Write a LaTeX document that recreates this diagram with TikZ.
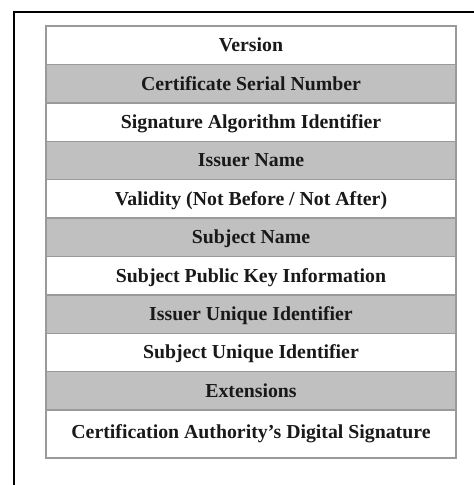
\documentclass[tikz,border=0pt]{standalone}
\usepackage{fontspec}
\setmainfont{Liberation Serif}
\begin{document}
\begin{tikzpicture}[x=1pt,y=-1pt,
  rowbox/.style={draw=tablegray, line width=1.4pt, minimum width=410pt, minimum height=38.4pt, inner sep=0pt, outer sep=0pt, anchor=north west, text height=15.5pt, text depth=2.5pt, font=\fontsize{19.8}{24}\selectfont\bfseries, text=black!90},
  shaded/.style={fill=rowgray},
  plain/.style={fill=white}]
\definecolor{tablegray}{HTML}{9A9A9A}
\definecolor{rowgray}{HTML}{C0C0C0}
\useasboundingbox (0,0) rectangle (474,485);
\fill[white] (0,0) rectangle (474,485);
\coordinate (fbl) at (14,485);
\coordinate (ftl) at (14,12);
\coordinate (ftr) at (474,12);
\draw[line width=2pt, black] (fbl) -- (ftl) -- (ftr);
\node[rowbox, plain]  (r1) at (46,26) {Version};
\node[rowbox, shaded] (r2) at (r1.south west) {Certificate Serial Number};
\node[rowbox, plain]  (r3) at (r2.south west) {Signature Algorithm Identifier};
\node[rowbox, shaded] (r4) at (r3.south west) {Issuer Name};
\node[rowbox, plain]  (r5) at (r4.south west) {Validity (Not Before / Not After)};
\node[rowbox, shaded] (r6) at (r5.south west) {Subject Name};
\node[rowbox, plain]  (r7) at (r6.south west) {Subject Public Key Information};
\node[rowbox, shaded] (r8) at (r7.south west) {Issuer Unique Identifier};
\node[rowbox, plain]  (r9) at (r8.south west) {Subject Unique Identifier};
\node[rowbox, shaded] (r10) at (r9.south west) {Extensions};
\node[rowbox, plain, minimum height=48pt, text depth=6.5pt] (r11) at (r10.south west) {Certification Authority’s Digital Signature};
\end{tikzpicture}
\end{document}
